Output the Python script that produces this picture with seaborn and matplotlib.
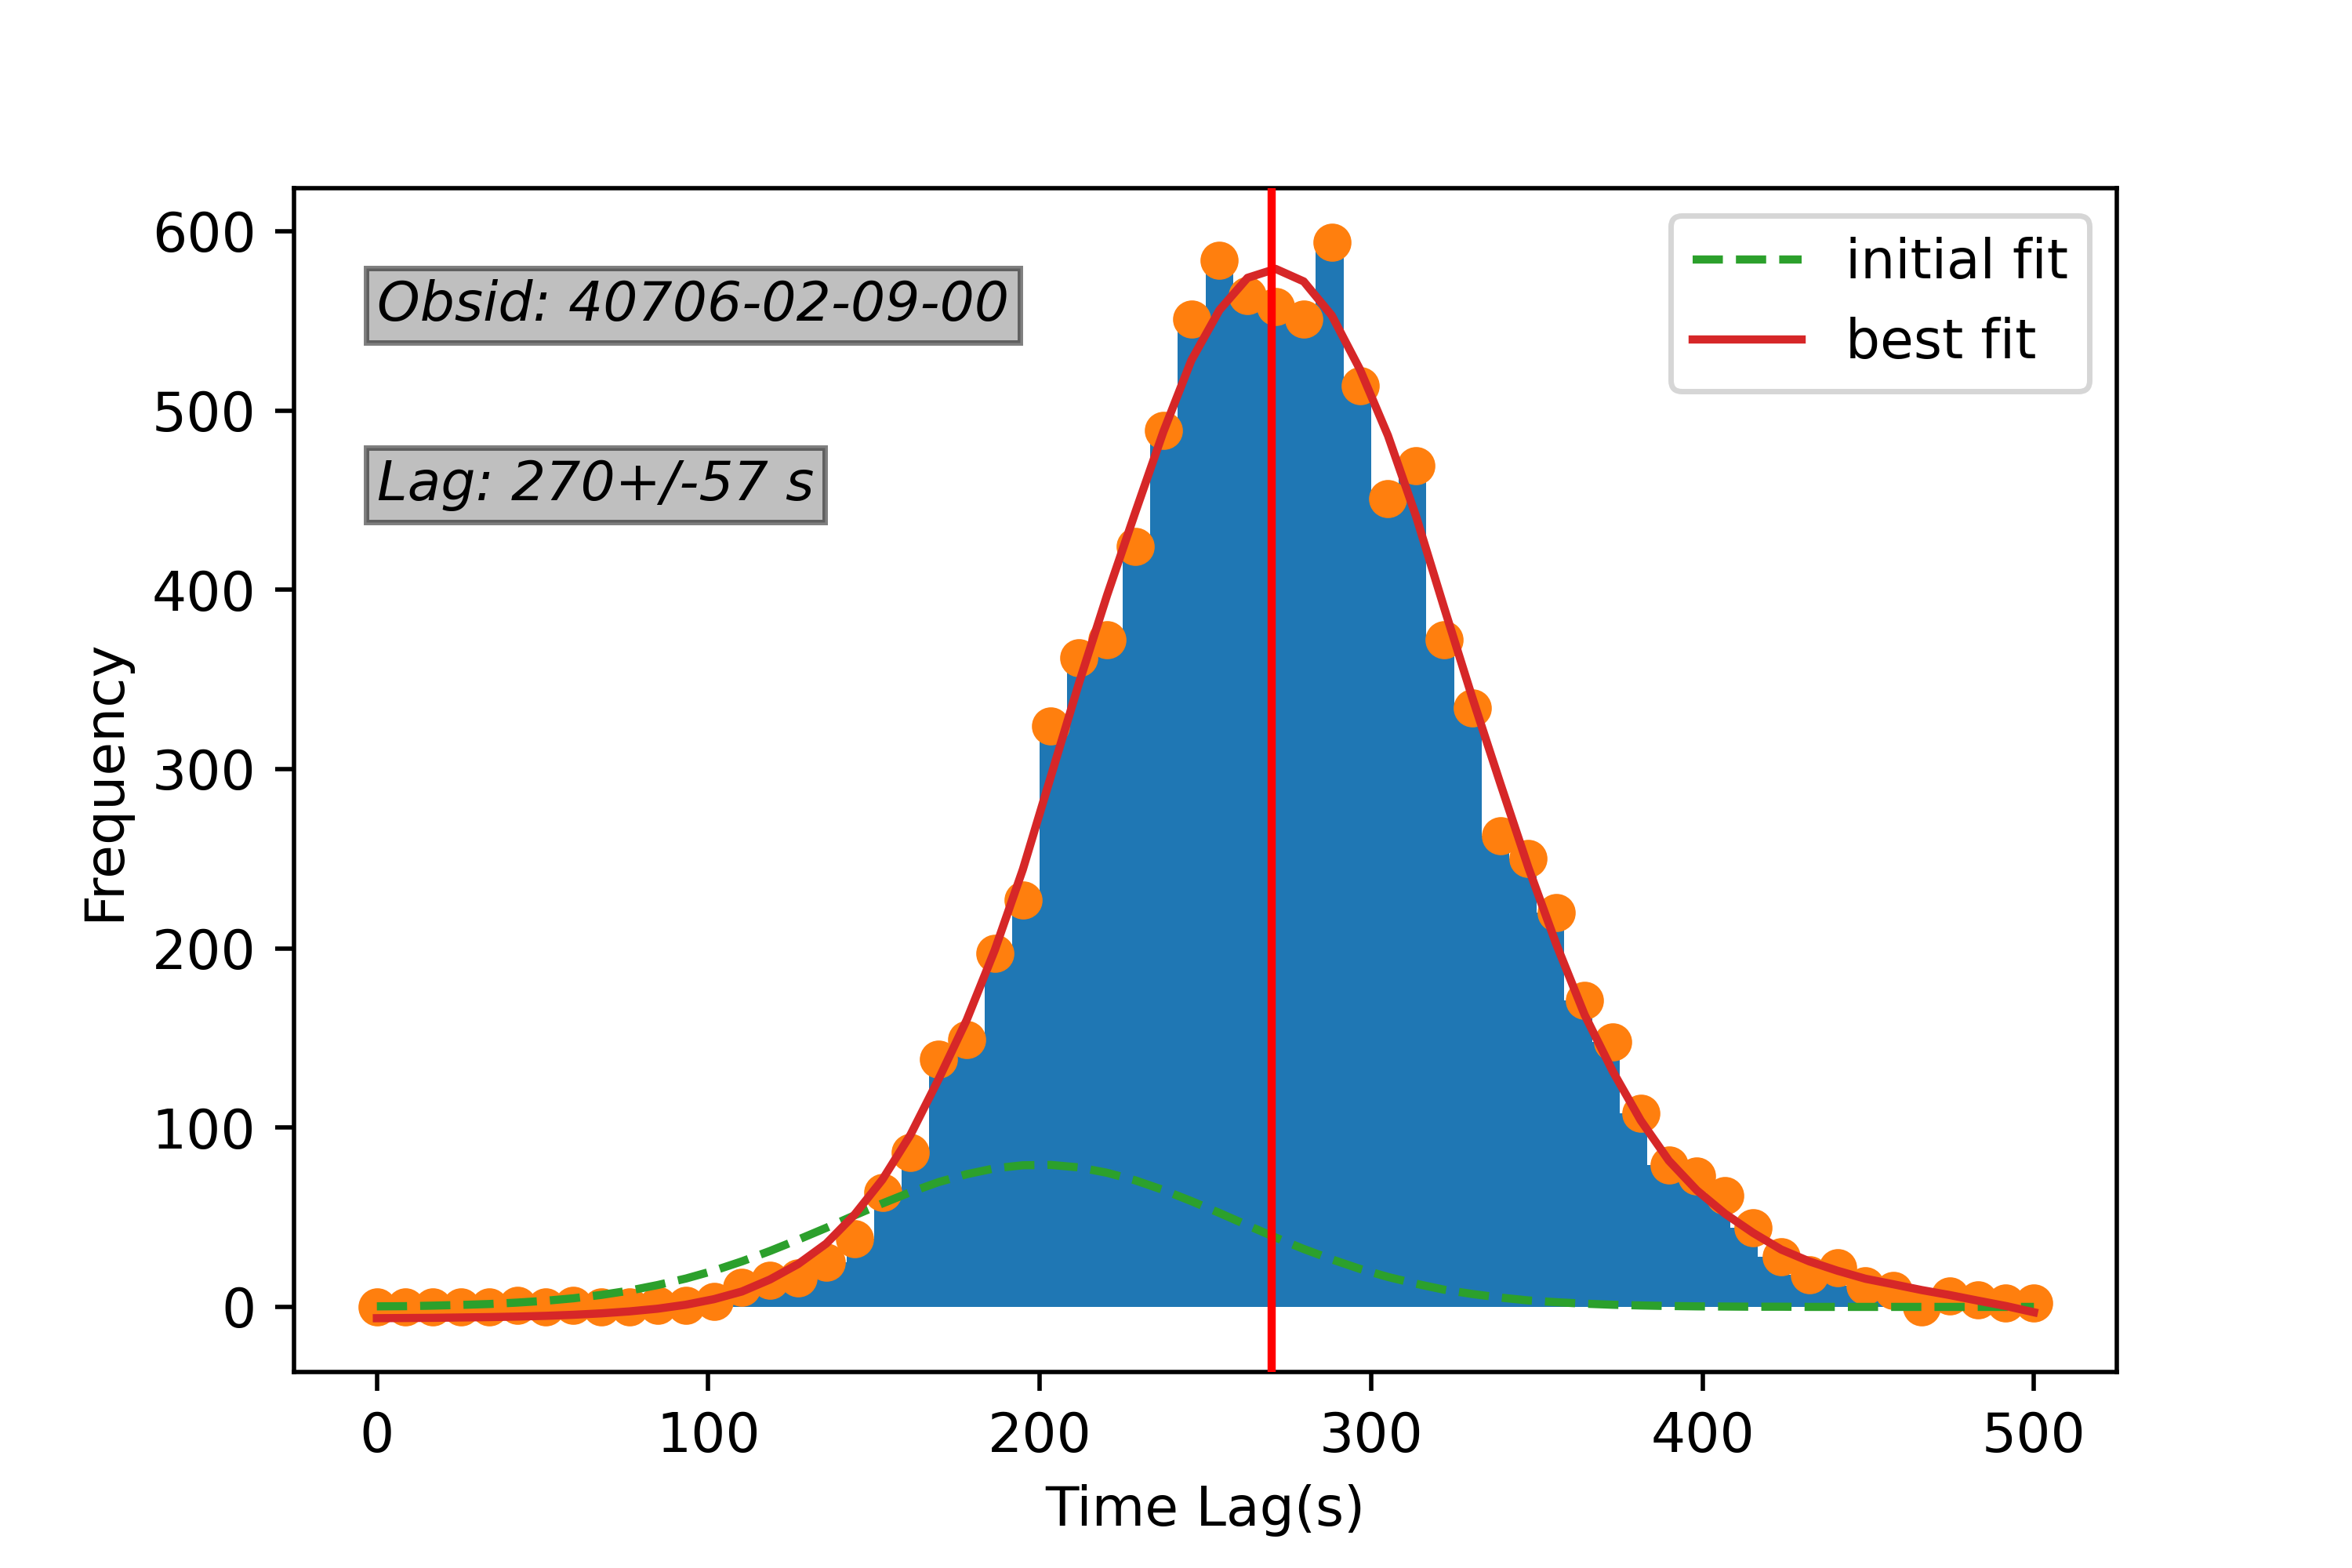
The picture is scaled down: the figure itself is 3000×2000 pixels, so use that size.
import numpy as np
import pandas as pd
import matplotlib
matplotlib.use("Agg")
import matplotlib.pyplot as plt
import seaborn as sns

# time lag grid (s) and histogram counts
lag = np.linspace(0, 500, 60)
bin_edges = np.linspace(0, 500, 61)

counts = [0, 0, 0, 0, 0, 1, 0, 1, 0, 0, 1, 1, 3, 11, 15, 16, 25, 38, 64, 86,
          138, 149, 197, 227, 324, 362, 372, 424, 489, 551, 584, 564, 558, 551, 594, 514, 451, 469, 372, 334,
          263, 250, 220, 171, 148, 108, 79, 73, 62, 44, 28, 18, 22, 12, 9, 0, 6, 4, 2, 2]

initial_fit = [0.3, 0.4, 0.7, 1.1, 1.6, 2.4, 3.4, 4.8, 6.7, 9.1, 12.2, 15.8, 20.2, 25.4, 31.2, 37.5, 44.1, 51.0, 57.7, 64.0,
               69.6, 74.0, 77.3, 79.0, 79.2, 77.8, 74.8, 70.6, 65.2, 59.0, 52.4, 45.5, 38.7, 32.3, 26.5, 21.2, 16.7, 12.9, 9.6, 7.2,
               5.2, 3.6, 2.6, 1.8, 1.2, 0.8, 0.5, 0.3, 0.2, 0.1, 0.1, 0.0, 0.0, 0.0, 0.0, 0.0, 0.0, 0.0, 0.0, 0.0]

best_fit = [-6.3, -6.2, -6.1, -5.9, -5.7, -5.4, -5.0, -4.4, -3.6, -2.5, -1.0, 1.2, 4.3, 8.6, 15.3, 23.9, 35.3, 51.3, 71, 96,
            127, 160, 199, 244, 296, 348, 397, 443, 488, 528, 556, 574, 579, 572, 553, 523, 486, 441, 390, 340,
            292, 245, 202, 163, 131.5, 104, 81.6, 65, 52, 41.3, 32, 25.4, 20.2, 15.7, 12.6, 9.4, 6.6, 3.5, 0.5, -3.0]

lag_value = 270
obsid_label = "Obsid: 40706-02-09-00"
lag_label = "Lag: 270+/-57 s"

df = pd.DataFrame({"lag": lag, "count": counts, "initial": initial_fit, "best": best_fit})

fig, ax = plt.subplots(figsize=(6, 4), dpi=500)
fig.subplots_adjust(bottom=0.125, top=0.88)

sns.histplot(data=df, x="lag", weights="count", bins=list(bin_edges), color="C0", alpha=1,
             linewidth=0, edgecolor="none", ax=ax, zorder=1)
sns.scatterplot(data=df, x="lag", y="count", color="C1", s=36, edgecolor="C1", linewidth=1,
                ax=ax, zorder=2)
sns.lineplot(data=df, x="lag", y="initial", color="C2", linestyle="--", label="initial fit",
             ax=ax, zorder=3)
sns.lineplot(data=df, x="lag", y="best", color="C3", label="best fit", ax=ax, zorder=4)
ax.axvline(lag_value, color="r", zorder=5)

ax.text(0, 550, obsid_label, style="italic",
        bbox=dict(facecolor="gray", alpha=0.5, pad=2))
ax.text(0, 450, lag_label, style="italic",
        bbox=dict(facecolor="gray", alpha=0.5, pad=2))

ax.set_xlabel("Time Lag(s)")
ax.set_ylabel("Frequency")
ax.legend(loc="upper right")

fig.savefig("out.png", dpi=500)
